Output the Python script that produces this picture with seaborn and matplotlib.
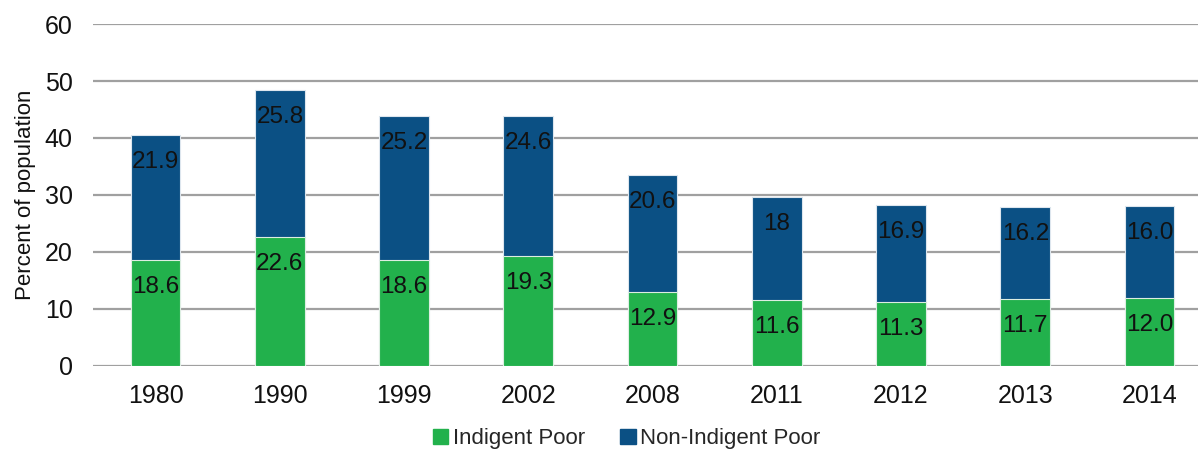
import matplotlib
matplotlib.use("Agg")
import matplotlib.pyplot as plt
import seaborn as sns
import pandas as pd
from matplotlib.patches import Patch

years = ["1980", "1990", "1999", "2002", "2008", "2011", "2012", "2013", "2014"]
indigent = [18.6, 22.6, 18.6, 19.3, 12.9, 11.6, 11.3, 11.7, 12.0]
non_indigent = [21.9, 25.8, 25.2, 24.6, 20.6, 18.0, 16.9, 16.2, 16.0]
indigent_labels = ["18.6", "22.6", "18.6", "19.3", "12.9", "11.6", "11.3", "11.7", "12.0"]
non_indigent_labels = ["21.9", "25.8", "25.2", "24.6", "20.6", "18", "16.9", "16.2", "16.0"]
yticks = [0, 10, 20, 30, 40, 50, 60]

GREEN = "#22B14C"
BLUE = "#0B5084"

sns.set_theme(style="white")
plt.rcParams["font.family"] = ["Liberation Sans", "DejaVu Sans"]

df = pd.DataFrame({
    "year": years,
    "indigent": indigent,
    "non_indigent": non_indigent,
})
df["total"] = df["indigent"] + df["non_indigent"]

fig = plt.figure(figsize=(11.98, 4.49), dpi=100)
ax = fig.add_axes([0.078, 0.185, 0.922, 0.7615])

ax.set_axisbelow(True)
ax.yaxis.grid(True, color="#A0A0A0", linewidth=1.6)

sns.barplot(data=df, x="year", y="total", color=BLUE, width=0.4,
            edgecolor="#DDE6EE", linewidth=0.8, saturation=1, ax=ax)
sns.barplot(data=df, x="year", y="indigent", color=GREEN, width=0.4,
            edgecolor="#DDEEE2", linewidth=0.8, saturation=1, ax=ax)

for i in range(len(years)):
    ax.annotate(indigent_labels[i], (i, indigent[i]), xytext=(0, -11.5),
                textcoords="offset points", ha="center", va="top",
                fontsize=17.5, color="#111111")
    ax.annotate(non_indigent_labels[i], (i, indigent[i] + non_indigent[i]),
                xytext=(0, -11.5), textcoords="offset points", ha="center",
                va="top", fontsize=17.5, color="#111111")

ax.set_ylim(0, 60)
ax.set_yticks(yticks)
ax.set_xlim(-0.5, 8.39)
ax.set_xlabel("")
ax.set_ylabel("Percent of population", fontsize=16, color="#111111", labelpad=6)
ax.tick_params(axis="both", labelsize=18, colors="#111111", length=0)
ax.tick_params(axis="x", pad=13)
ax.tick_params(axis="y", pad=15)
for s in ax.spines.values():
    s.set_visible(False)

handles = [Patch(color=GREEN, label="Indigent Poor"),
           Patch(color=BLUE, label="Non-Indigent Poor")]
fig.legend(handles=handles, loc="lower center", bbox_to_anchor=(0.523, -0.045),
           ncol=2, frameon=False, fontsize=16, handlelength=0.7,
           handleheight=0.7, handletextpad=0.2, columnspacing=1.6)

fig.savefig("out.png", dpi=100)
